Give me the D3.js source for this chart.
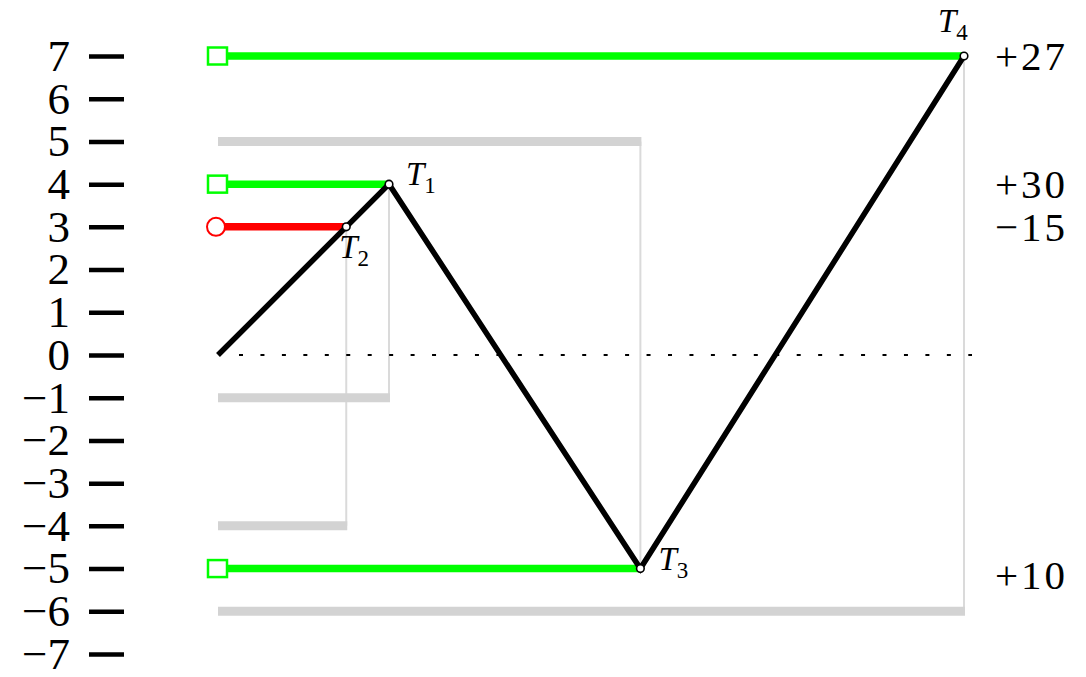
<!DOCTYPE html>
<html lang="en">
<head>
    <meta charset="UTF-8">
    <title>Trades</title>
    <script src="https://cdn.jsdelivr.net/npm/d3@7"></script>
    <style>
        body { margin: 0; background: #fff; }
        text { font-family: "Liberation Serif", serif; fill: #000; }
    </style>
</head>
<body>
<script>
    // path: start, T2, T1, T3, T4
    const pathTimes = [0, 3, 4, 9.88, 17.45]
    const pathLevels = [0, 3, 4, -5, 7]
    // nodes (same order as the path, without the start point)
    const nodeNames = ['2', '1', '3', '4']
    const nodeKinds = ['loss', 'gain', 'gain', 'gain']
    const stopLevels = [-4, -1, 5, -6]
    const resultLabels = ['\u221215', '+30', '+10', '+27']
    const resultLevels = [3, 4, -5.15, 7]
    const yTicks = d3.range(-7, 8)

    const [width, height] = [1086, 677]
    const svg = d3.select('body').append('svg')
        .attr('width', width)
        .attr('height', height)

    const x = d3.scaleLinear().domain([0, 17.45]).range([218, 964])
    const y = d3.scaleLinear().domain([-7, 7]).range([654, 56])

    const nodes = nodeNames.map((n, i) => ({
        name: n, kind: nodeKinds[i], t: pathTimes[i + 1], v: pathLevels[i + 1],
        stop: stopLevels[i]
    }))

    // left axis: only thick tick dashes and labels
    const yAxis = d3.axisLeft(y).tickValues(yTicks).tickSize(35).tickPadding(19)
    const ax = svg.append('g').attr('transform', 'translate(124,0)').call(yAxis)
    ax.select('.domain').remove()
    ax.selectAll('.tick line').attr('stroke', '#000').attr('stroke-width', 4.5)
    ax.selectAll('.tick text')
        .attr('font-family', '"Liberation Serif", serif')
        .attr('font-size', 45)
        .attr('fill', '#000')

    // grey stop bars + thin connectors
    svg.append('g').selectAll('line.stop').data(nodes).join('line')
        .attr('x1', d => x(d.t)).attr('x2', d => x(d.t))
        .attr('y1', d => y(d.v)).attr('y2', d => y(d.stop))
        .attr('stroke', '#dadada').attr('stroke-width', 2)
    svg.append('g').selectAll('line').data(nodes).join('line')
        .attr('x1', x(0)).attr('x2', d => x(d.t) + 1)
        .attr('y1', d => y(d.stop)).attr('y2', d => y(d.stop))
        .attr('stroke', '#d3d3d3').attr('stroke-width', 9)

    // dotted zero line
    svg.append('line')
        .attr('x1', x(0) + 21).attr('x2', x(17.45) + 8)
        .attr('y1', y(0)).attr('y2', y(0))
        .attr('stroke', '#000').attr('stroke-width', 2)
        .attr('stroke-dasharray', '4 17.45')

    // coloured entry bars
    const colour = k => k === 'gain' ? '#00ff00' : '#ff0000'
    svg.append('g').selectAll('line').data(nodes).join('line')
        .attr('x1', x(0)).attr('x2', d => x(d.t))
        .attr('y1', d => y(d.v)).attr('y2', d => y(d.v))
        .attr('stroke', d => colour(d.kind)).attr('stroke-width', 7.5)

    // black price path
    const line = d3.line().x(d => x(d[0])).y(d => y(d[1]))
    svg.append('path')
        .attr('d', line(pathTimes.map((t, i) => [t, pathLevels[i]])))
        .attr('fill', 'none').attr('stroke', '#000').attr('stroke-width', 5.5)
        .attr('stroke-linejoin', 'miter')

    // start markers
    const gains = nodes.filter(d => d.kind === 'gain')
    const losses = nodes.filter(d => d.kind !== 'gain')
    svg.append('g').selectAll('rect').data(gains).join('rect')
        .attr('x', x(0) - 10).attr('y', d => y(d.v) - 8.5)
        .attr('width', 19).attr('height', 17)
        .attr('fill', '#fff').attr('stroke', '#00ff00').attr('stroke-width', 2.5)
    svg.append('g').selectAll('circle').data(losses).join('circle')
        .attr('cx', x(0) - 2).attr('cy', d => y(d.v)).attr('r', 9)
        .attr('fill', '#fff').attr('stroke', '#ff0000').attr('stroke-width', 2)

    // nodes
    svg.append('g').selectAll('circle').data(nodes).join('circle')
        .attr('cx', d => x(d.t)).attr('cy', d => y(d.v)).attr('r', 3.8)
        .attr('fill', '#fff').attr('stroke', '#000').attr('stroke-width', 1.6)

    // node labels T_i
    const labelOffsets = { '1': [17, 1], '2': [-7, 31], '3': [18, 1], '4': [-26, -24] }
    const lbl = svg.append('g').selectAll('text').data(nodes).join('text')
        .attr('x', d => x(d.t) + labelOffsets[d.name][0])
        .attr('y', d => y(d.v) + labelOffsets[d.name][1])
        .attr('font-size', 33)
    lbl.append('tspan').attr('font-style', 'italic').text('T')
    lbl.append('tspan').attr('font-size', 23).attr('dx', 0).attr('dy', 8).text(d => d.name)

    // results on the right
    svg.append('g').selectAll('text').data(resultLabels).join('text')
        .attr('x', 995)
        .attr('y', (d, i) => y(resultLevels[i]))
        .attr('dy', '0.34em')
        .attr('font-size', 41)
        .attr('letter-spacing', 3)
        .text(d => d)
</script>
</body>
</html>
